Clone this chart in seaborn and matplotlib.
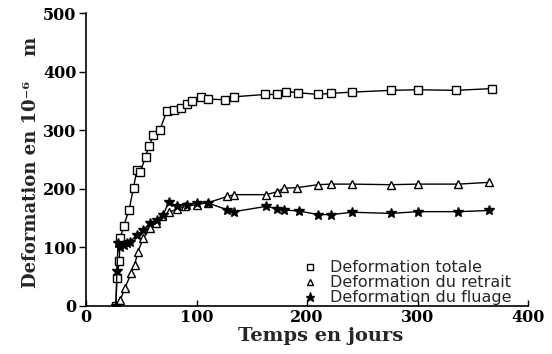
import matplotlib
matplotlib.use("Agg")
import matplotlib.pyplot as plt
import seaborn as sns
import pandas as pd
from matplotlib.lines import Line2D

# ---- data ----
days_totale = [27, 28, 30, 31, 34, 39, 43, 46, 49, 54, 57, 61, 67, 73, 80, 86, 91, 96,
               104, 110, 126, 134, 162, 173, 181, 192, 210, 222, 241, 276, 300, 335, 367]
vals_totale = [0, 48, 76, 116, 136, 164, 202, 232, 228, 255, 273, 291, 301, 332, 335, 338,
               345, 349, 357, 353, 352, 357, 361, 361, 366, 364, 361, 363, 365, 368, 369, 368, 371]

days_retrait = [27, 31, 35, 41, 44, 47, 52, 58, 63, 69, 75, 82, 90, 100, 110, 128, 134,
                163, 173, 179, 191, 210, 222, 241, 276, 300, 337, 365]
vals_retrait = [0, 10, 30, 56, 70, 93, 116, 133, 142, 153, 160, 165, 170, 173, 176, 187, 190,
                190, 195, 201, 202, 207, 208, 208, 207, 208, 208, 211]

days_fluage = [27, 28, 29, 31, 34, 37, 40, 46, 52, 58, 64, 70, 75, 82, 91, 100, 110, 128,
               134, 163, 173, 179, 193, 210, 222, 241, 276, 300, 337, 365]
vals_fluage = [0, 60, 107, 100, 104, 108, 110, 121, 130, 142, 147, 156, 178, 170, 173, 175,
               176, 164, 161, 170, 166, 164, 162, 156, 156, 160, 158, 161, 161, 163]

labels = ["Deformation totale", "Deformation du retrait", "Deformation du fluage"]
x_ticks = [0, 100, 200, 300, 400]
y_ticks = [0, 100, 200, 300, 400, 500]

df = pd.concat([
    pd.DataFrame({"jours": days_totale, "def": vals_totale, "serie": labels[0]}),
    pd.DataFrame({"jours": days_retrait, "def": vals_retrait, "serie": labels[1]}),
    pd.DataFrame({"jours": days_fluage, "def": vals_fluage, "serie": labels[2]}),
])

sns.set_theme(style="ticks")
plt.rcParams["font.family"] = ["DejaVu Sans"]

fig = plt.figure(figsize=(5.52, 3.54), dpi=100)
ax = fig.add_axes([86 / 552, 1 - 306 / 354, (528 - 86) / 552, (306 - 13) / 354])

styles = {
    labels[0]: dict(marker="s", mfc="white", ms=5.5),
    labels[1]: dict(marker="^", mfc="white", ms=5.5),
    labels[2]: dict(marker="*", mfc="black", ms=7.5),
}
for lab in labels:
    sub = df[df["serie"] == lab]
    st = styles[lab]
    sns.lineplot(data=sub, x="jours", y="def", ax=ax, sort=False, estimator=None,
                 color="black", linewidth=1.0, marker=st["marker"],
                 markerfacecolor=st["mfc"], markeredgecolor="black",
                 markersize=st["ms"], markeredgewidth=1.0, legend=False)

ax.set_xlim(0, 400)
ax.set_ylim(0, 500)
ax.set_xticks(x_ticks)
ax.set_yticks(y_ticks)
ax.set_xticklabels([str(t) for t in x_ticks], fontfamily="DejaVu Serif",
                   fontweight="bold", fontsize=11.5)
ax.set_yticklabels([str(t) for t in y_ticks], fontfamily="DejaVu Serif",
                   fontweight="bold", fontsize=11.5)
ax.tick_params(axis="x", direction="in", length=4, width=1, pad=2, colors="black")
ax.tick_params(axis="y", direction="out", length=5, width=1, pad=2, colors="black")
for s in ["top", "right"]:
    ax.spines[s].set_visible(False)
for s in ["left", "bottom"]:
    ax.spines[s].set_color("black")
    ax.spines[s].set_linewidth(1.2)

ax.set_xlabel("Temps en jours", fontfamily="DejaVu Serif", fontweight="bold",
              fontsize=14)
ax.xaxis.set_label_coords(0.53, -0.072)
ax.set_ylabel("Deformation en 10\u207b\u2076    m", fontfamily="DejaVu Serif",
              fontweight="bold", fontsize=13)
ax.yaxis.set_label_coords(-0.105, 0.49)

handles = [Line2D([], [], linestyle="none", color="black", marker=styles[l]["marker"],
                  markerfacecolor=styles[l]["mfc"], markeredgecolor="black",
                  markersize=styles[l]["ms"] - 1) for l in labels]
ax.legend(handles, labels, loc="lower right", bbox_to_anchor=(0.985, -0.03),
          frameon=False, fontsize=11.5, handlelength=0.8, handletextpad=0.9,
          labelspacing=0.0, borderaxespad=0.2)

fig.savefig("out.png", dpi=100)
